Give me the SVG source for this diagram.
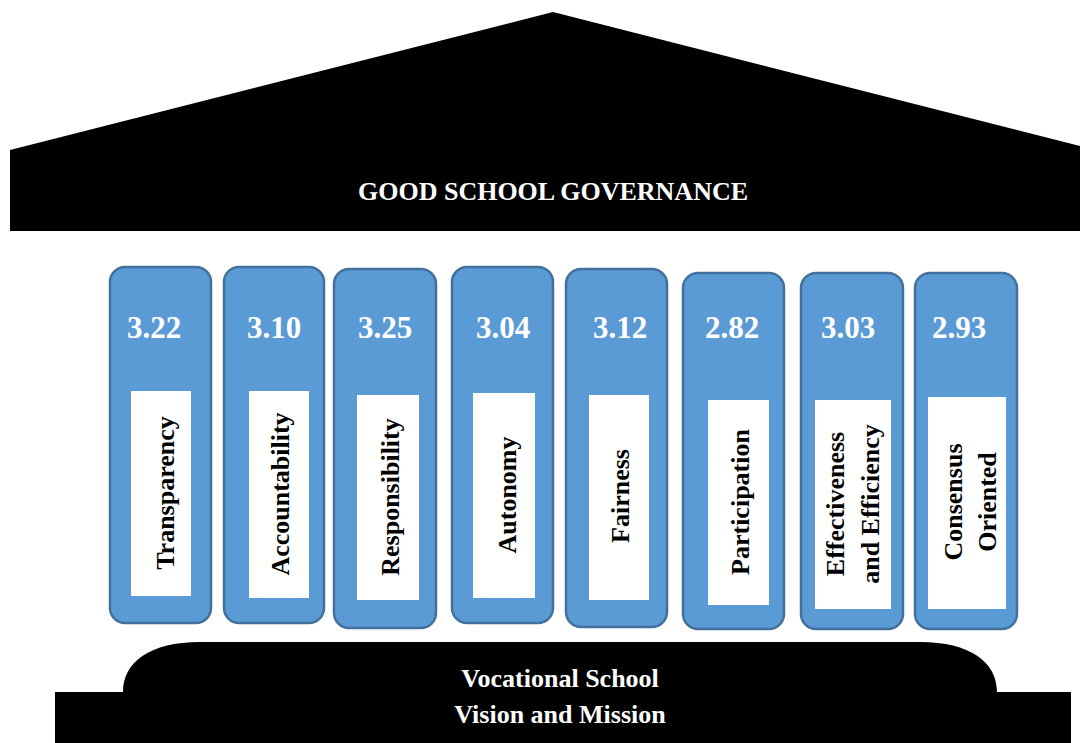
<svg xmlns="http://www.w3.org/2000/svg" width="1080" height="743" viewBox="0 0 1080 743">
<style>
.pil{fill:#5B9BD5;stroke:#41719C;stroke-width:2.5}
.box{fill:#FFFFFF}
.val{font-family:"Liberation Serif",serif;font-weight:bold;font-size:31px;fill:#FFFFFF;text-anchor:middle}
.lab{font-family:"Liberation Serif",serif;font-weight:bold;font-size:26px;fill:#000000;text-anchor:middle}
.hd{font-family:"Liberation Serif",serif;font-weight:bold;font-size:26px;fill:#FFFFFF;text-anchor:middle}
</style>
<rect width="1080" height="743" fill="#FFFFFF"/>
<g id="roof">
<polygon points="10,150 553,12 1080,146 1080,231 10,231" fill="#000000"/>
<text class="hd" x="553" y="200">GOOD SCHOOL GOVERNANCE</text>
</g>
<g id="base">
<path d="M55 692 H123 C123 662 150 642 200 642 H920 C970 642 997 662 997 692 H1071 V743 H55 Z" fill="#000000"/>
<text class="hd" x="560" y="687">Vocational School</text>
<text class="hd" x="560" y="723">Vision and Mission</text>
</g>
<g id="pillar-transparency">
<rect class="pil" x="110" y="267" width="101" height="356" rx="15"/>
<text class="val" x="154" y="338">3.22</text>
<rect class="box" x="131" y="391" width="60" height="205"/>
<text class="lab" transform="translate(174,493) rotate(-90)">Transparency</text>
</g>
<g id="pillar-accountability">
<rect class="pil" x="224" y="267" width="100" height="356" rx="15"/>
<text class="val" x="274" y="338">3.10</text>
<rect class="box" x="249" y="391" width="60" height="207"/>
<text class="lab" transform="translate(289,494) rotate(-90)">Accountability</text>
</g>
<g id="pillar-responsibility">
<rect class="pil" x="334" y="269" width="102" height="359" rx="15"/>
<text class="val" x="385" y="338">3.25</text>
<rect class="box" x="357" y="395" width="62" height="205"/>
<text class="lab" transform="translate(399,497) rotate(-90)">Responsibility</text>
</g>
<g id="pillar-autonomy">
<rect class="pil" x="452" y="267" width="101" height="356" rx="15"/>
<text class="val" x="503" y="338">3.04</text>
<rect class="box" x="473" y="393" width="62" height="205"/>
<text class="lab" transform="translate(516,495) rotate(-90)">Autonomy</text>
</g>
<g id="pillar-fairness">
<rect class="pil" x="566" y="269" width="101" height="358" rx="15"/>
<text class="val" x="620" y="338">3.12</text>
<rect class="box" x="589" y="395" width="60" height="205"/>
<text class="lab" transform="translate(629,496) rotate(-90)">Fairness</text>
</g>
<g id="pillar-participation">
<rect class="pil" x="683" y="273" width="101" height="356" rx="15"/>
<text class="val" x="732" y="338">2.82</text>
<rect class="box" x="708" y="400" width="61" height="205"/>
<text class="lab" transform="translate(749,502) rotate(-90)">Participation</text>
</g>
<g id="pillar-effectiveness">
<rect class="pil" x="801" y="273" width="102" height="356" rx="15"/>
<text class="val" x="848" y="338">3.03</text>
<rect class="box" x="815" y="400" width="76" height="209"/>
<text class="lab" transform="translate(844,504) rotate(-90)">Effectiveness</text>
<text class="lab" transform="translate(879,504) rotate(-90)">and Efficiency</text>
</g>
<g id="pillar-consensus">
<rect class="pil" x="915" y="273" width="102" height="356" rx="15"/>
<text class="val" x="959" y="338">2.93</text>
<rect class="box" x="928" y="397" width="78" height="212"/>
<text class="lab" transform="translate(962,502) rotate(-90)">Consensus</text>
<text class="lab" transform="translate(996,502) rotate(-90)">Oriented</text>
</g>
<g id="connectors"></g>
</svg>
